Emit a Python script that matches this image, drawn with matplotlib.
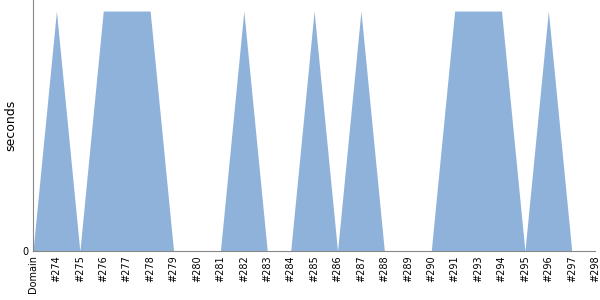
import matplotlib
matplotlib.use("Agg")
import matplotlib.pyplot as plt

categories = ["Domain", "#274", "#275", "#276", "#277", "#278", "#279", "#280", "#281",
              "#282", "#283", "#284", "#285", "#286", "#287", "#288", "#289", "#290",
              "#291", "#293", "#294", "#295", "#296", "#297", "#298"]
values = [0, 1, 0, 1, 1, 1, 0, 0, 0, 1, 0, 0, 1, 0, 1, 0, 0, 0, 1, 1, 1, 0, 1, 0, 0]

fig = plt.figure(figsize=(6, 3), dpi=100)
ax = fig.add_axes([0.055, 0.163, 0.937, 0.837])
x = list(range(len(categories)))
ax.fill_between(x, values, 0, color="#8fb2db", linewidth=0)
ax.set_xlim(0, len(categories) - 1)
ax.set_ylim(0, 1.046)
ax.set_xticks(x)
ax.set_xticklabels(categories, rotation=90, fontsize=7)
ax.set_yticks([0])
ax.set_yticklabels(["0"], fontsize=7)
ax.tick_params(length=0, pad=3)
ax.set_ylabel("seconds", fontsize=9)
for s in ["top", "right"]:
    ax.spines[s].set_visible(False)
for s in ["left", "bottom"]:
    ax.spines[s].set_color("#888888")
fig.savefig("out.png", dpi=100)
